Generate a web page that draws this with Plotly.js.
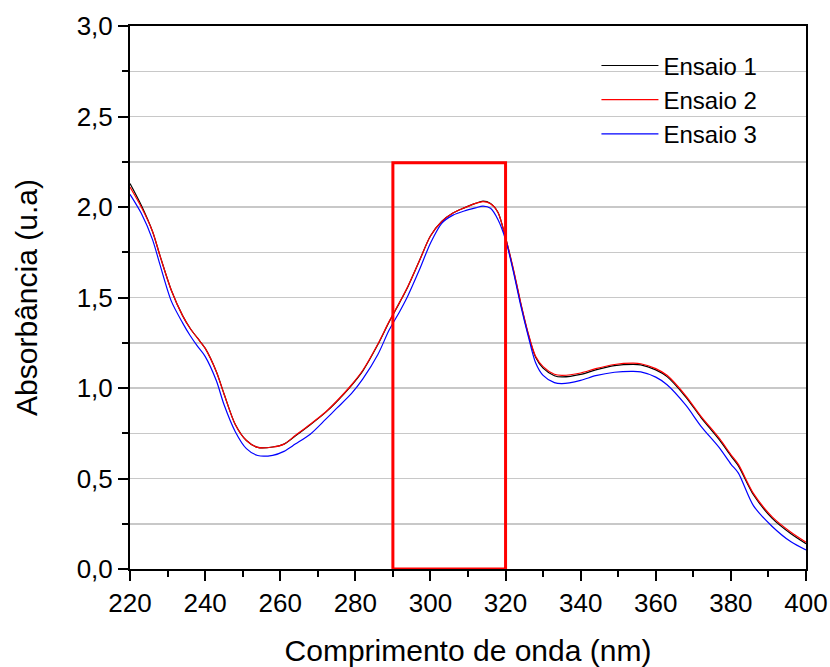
<!DOCTYPE html>
<html>
<head>
<meta charset="utf-8">
<script src="https://cdn.plot.ly/plotly-3.0.1.min.js"></script>
<style>html,body{margin:0;padding:0;background:#fff;}#chart{width:830px;height:667px;}</style>
</head>
<body>
<div id="chart"></div>
<script>
const wavelength = [220,223,226,228,231,234,236,238,240,243,245,248,251,254,258,261,264,268,272,275,279,282,286,289,292,294,297,300,303,306,309,312,314,316,318,320,322,324,326,328,330,333,335,340,344,349,354,356,360,363,368,372,377,380,382,386,391,396,400];
const ensaio1 = [2.13,2.01,1.865,1.73,1.54,1.40,1.33,1.275,1.22,1.09,0.97,0.80,0.71,0.672,0.674,0.69,0.735,0.797,0.864,0.924,1.015,1.095,1.24,1.365,1.48,1.56,1.70,1.84,1.92,1.967,1.995,2.02,2.033,2.02,1.97,1.83,1.66,1.47,1.30,1.17,1.11,1.068,1.061,1.075,1.10,1.124,1.131,1.128,1.10,1.063,0.95,0.838,0.712,0.625,0.57,0.41,0.28,0.195,0.14];
const ensaio2 = [2.11,2.00,1.865,1.73,1.54,1.40,1.33,1.275,1.22,1.09,0.97,0.80,0.71,0.672,0.674,0.69,0.737,0.80,0.866,0.927,1.018,1.098,1.243,1.368,1.482,1.562,1.70,1.84,1.92,1.967,1.995,2.02,2.03,2.018,1.97,1.83,1.665,1.475,1.305,1.175,1.118,1.076,1.07,1.083,1.107,1.13,1.137,1.134,1.107,1.07,0.957,0.845,0.72,0.632,0.578,0.418,0.288,0.203,0.148];
const ensaio3 = [2.07,1.965,1.82,1.68,1.48,1.36,1.29,1.23,1.175,1.04,0.91,0.76,0.665,0.627,0.628,0.65,0.69,0.745,0.825,0.887,0.97,1.05,1.185,1.32,1.43,1.51,1.65,1.80,1.91,1.955,1.978,1.995,2.005,1.993,1.93,1.82,1.65,1.46,1.29,1.14,1.07,1.03,1.024,1.042,1.068,1.087,1.092,1.089,1.06,1.018,0.905,0.79,0.668,0.58,0.53,0.35,0.235,0.15,0.105];
const seriesNames = ['Ensaio 1','Ensaio 2','Ensaio 3'];
const seriesColors = ['#000000','#ff0000','#0000ff'];
const boxX = [290,320];
const boxY = [0,2.245];

const fontFam = 'Liberation Sans, Arial, sans-serif';
const data = [ensaio1, ensaio2, ensaio3].map((ys,i)=>({
  x: wavelength, y: ys, type:'scatter', mode:'lines', name: seriesNames[i],
  line:{color: seriesColors[i], width:1.2, shape:'spline', smoothing:0.8}
}));

const layout = {
  width:830, height:667,
  margin:{l:130, r:24, t:26, b:98},
  paper_bgcolor:'#fff', plot_bgcolor:'#fff',
  separators:',.',
  font:{family:fontFam, size:26, color:'#000'},
  showlegend:true,
  legend:{x:0.69, y:0.968, xanchor:'left', yanchor:'top', bgcolor:'rgba(0,0,0,0)',
          font:{family:fontFam, size:24, color:'#000'}, itemwidth:57, tracegroupgap:0},
  xaxis:{range:[220,400], dtick:20, tick0:220, ticks:'outside', ticklen:10, tickwidth:2, tickcolor:'#000',
         showline:true, linecolor:'#000', linewidth:2, mirror:true, showgrid:false, zeroline:false,
         minor:{dtick:10, ticks:'outside', ticklen:6, tickwidth:2, tickcolor:'#000', showgrid:false},
         tickfont:{family:fontFam, size:26, color:'#000'},
         title:{text:'Comprimento de onda (nm)', font:{family:fontFam, size:30, color:'#000'}, standoff:24}},
  yaxis:{range:[0,3], dtick:0.5, tick0:0, tickformat:'.1f', ticks:'outside', ticklen:10, tickwidth:2, tickcolor:'#000',
         showline:true, linecolor:'#000', linewidth:2, mirror:true, showgrid:true, gridcolor:'#c8c8c8', gridwidth:1.5, zeroline:false,
         minor:{dtick:0.25, ticks:'outside', ticklen:6, tickwidth:2, tickcolor:'#000', showgrid:true, gridcolor:'#c8c8c8', gridwidth:1.5},
         tickfont:{family:fontFam, size:26, color:'#000'},
         title:{text:'Absorbância (u.a)', font:{family:fontFam, size:30, color:'#000'}, standoff:30}},
  shapes:[{type:'rect', xref:'x', yref:'y', x0:boxX[0], x1:boxX[1], y0:boxY[0], y1:boxY[1],
           line:{color:'#ff0000', width:3}, fillcolor:'rgba(0,0,0,0)'}]
};
Plotly.newPlot('chart', data, layout, {displayModeBar:false, staticPlot:true});
</script>
</body>
</html>
